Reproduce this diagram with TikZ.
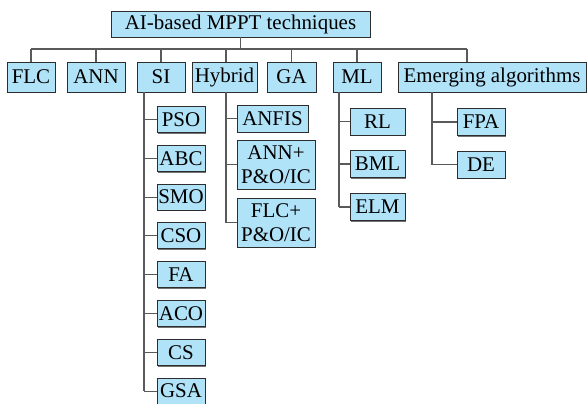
\documentclass[tikz,border=0pt]{standalone}
\usepackage{fontspec}
\newfontfamily\tnr{Liberation Serif}
\usetikzlibrary{shadows}
\definecolor{boxfill}{RGB}{176,226,248}
\definecolor{boxline}{RGB}{45,45,45}
\definecolor{conn}{RGB}{90,90,90}
\tikzset{
  box/.style={draw=boxline, line width=0.9bp, fill=boxfill, inner sep=0pt,
    minimum height=26bp, font=\tnr\fontsize{21}{24.6}\selectfont, align=center,
    drop shadow={shadow xshift=1.2bp, shadow yshift=-1.2bp, fill=black!55, opacity=1}},
  topbox/.style={box, minimum height=30bp},
  conn/.style={draw=conn, line width=1.1bp}
}
\begin{document}
\begin{tikzpicture}[x=1bp,y=-1bp]
\useasboundingbox (0,0) rectangle (587,403);
% root
\node[box, minimum width=259bp] (root) at (240.5,24) {AI-based MPPT techniques};
% top level
\node[topbox, minimum width=48bp] (flc) at (31,77) {FLC};
\node[topbox, minimum width=58bp] (ann) at (96,77) {ANN};
\node[topbox, minimum width=48bp] (si) at (161,77) {SI};
\node[topbox, minimum width=65bp] (hyb) at (224.5,77) {Hybrid};
\node[topbox, minimum width=49bp] (ga) at (291.5,77) {GA};
\node[topbox, minimum width=48bp] (ml) at (357,77) {ML};
\node[topbox, minimum width=188bp] (em) at (492,77) {Emerging algorithms};
% bus
\coordinate (bus) at (240.5,49);
\coordinate (busL) at (31,49);
\coordinate (busR) at (467,49);
\draw[conn] (root.south) -- (bus);
\draw[conn] (busL) -- (busR);
\draw[conn] (busL) -- (flc.north);
\draw[conn] (ann.north |- bus) -- (ann.north);
\draw[conn] (si.north |- bus) -- (si.north);
\draw[conn] (226,49) -- (hyb.north -| 226,0);
\draw[conn] (ga.north |- bus) -- (ga.north);
\draw[conn] (ml.north |- bus) -- (ml.north);
\draw[conn] (busR) -- (em.north -| busR);
% SI children
\foreach \n/\t [count=\k from 0] in {pso/PSO,abc/ABC,smo/SMO,cso/CSO,fa/FA,aco/ACO,cs/CS,gsa/GSA}{
  \node[box, minimum width=48bp] (\n) at (181,{119.5+38.8*\k}) {\t};
  \draw[conn] (\n.west) -- (\n.west -| 144,0);
}
\draw[conn] (si.south -| 144,0) -- (gsa.west -| 144,0);
% Hybrid children
\node[box, minimum width=71bp, minimum height=27bp] (anfis) at (272.5,118.5) {ANFIS};
\node[box, minimum width=78bp, minimum height=49bp] (annpo) at (276,164.5) {ANN+\\P\&O/IC};
\node[box, minimum width=78bp, minimum height=49bp] (flcpo) at (276,222.5) {FLC+\\P\&O/IC};
\foreach \n in {anfis,annpo,flcpo}{
  \draw[conn] (\n.west) -- (\n.west -| 226,0);
}
\draw[conn] (hyb.south -| 226,0) -- (flcpo.west -| 226,0);
% ML children
\node[box, minimum width=55bp, minimum height=27bp] (rl) at (377.5,121.5) {RL};
\node[box, minimum width=55bp, minimum height=27bp] (bml) at (377.5,164) {BML};
\node[box, minimum width=55bp, minimum height=27bp] (elm) at (377.5,207) {ELM};
\foreach \n in {rl,bml,elm}{
  \draw[conn] (\n.west) -- (\n.west -| 339,0);
}
\draw[conn] (ml.south -| 339,0) -- (elm.west -| 339,0);
% Emerging children
\node[box, minimum width=48bp, minimum height=27bp] (fpa) at (481,122) {FPA};
\node[box, minimum width=48bp, minimum height=27bp] (de) at (481,164.5) {DE};
\foreach \n in {fpa,de}{
  \draw[conn] (\n.west) -- (\n.west -| 432,0);
}
\draw[conn] (em.south -| 432,0) -- (de.west -| 432,0);
\end{tikzpicture}
\end{document}
